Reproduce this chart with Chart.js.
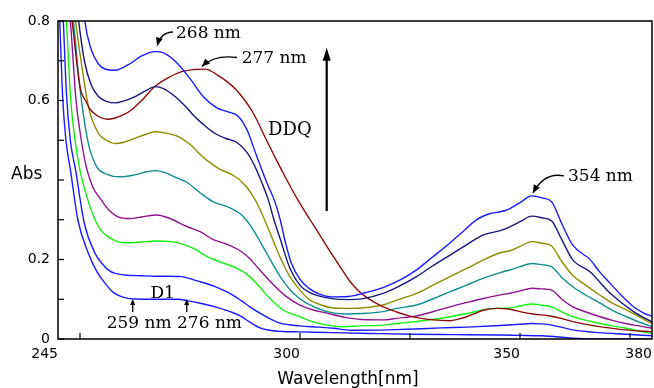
<!DOCTYPE html>
<html><head><meta charset="utf-8">
<script src="https://cdn.jsdelivr.net/npm/chart.js@4.4.1/dist/chart.umd.min.js"></script>
<style>html,body{margin:0;padding:0;background:#fff;}#wrap{width:654px;height:388px;}</style>
</head><body><div id="wrap"><canvas id="c" width="654" height="388"></canvas></div>
<script>
// ---- data (wavelength nm, absorbance) ----
const specTop = [[250.3,0.9],[251.1,0.8],[252.5,0.73],[254,0.695],[256,0.678],[258,0.676],[261,0.69],[264,0.712],[267,0.723],[269,0.72],[272,0.695],[275,0.655],[278,0.61],[281,0.582],[283.5,0.572],[286,0.56],[288,0.525],[290,0.465],[292.4,0.395],[294.3,0.345],[295.5,0.30],[296.8,0.238],[298,0.192],[300,0.15],[302,0.128],[304,0.115],[307.5,0.106],[311,0.107],[315,0.117],[319,0.13],[323,0.15],[326.5,0.174],[330,0.205],[334,0.241],[337,0.27],[340,0.299],[343,0.315],[345.5,0.32],[347.5,0.327],[350,0.343],[352.7,0.360],[355,0.355],[357.2,0.345],[359.5,0.29],[362,0.236],[366,0.199],[368,0.17],[370.5,0.14],[373,0.11],[375.8,0.081],[378,0.066],[380,0.057]];
const specNavy = [[248.8,0.9],[249.7,0.8],[251,0.7],[252.5,0.64],[254.2,0.61],[256,0.598],[258,0.594],[260,0.599],[262,0.607],[265,0.625],[267,0.635],[269,0.63],[271.6,0.61],[274,0.585],[276.1,0.559],[278,0.54],[280.7,0.517],[283,0.505],[285.6,0.495],[287.9,0.47],[289.5,0.44],[290.9,0.405],[292.8,0.35],[294,0.303],[295.5,0.252],[297.7,0.178],[300,0.135],[302,0.118],[304,0.109],[307.6,0.101],[311,0.099],[314,0.101],[318.9,0.115],[322,0.13],[326.5,0.157],[330,0.183],[334.1,0.211],[338,0.238],[341.7,0.262],[345.5,0.2725],[347.7,0.282],[350,0.295],[352.7,0.309],[355,0.305],[357.2,0.297],[359.5,0.25],[362,0.199],[365.9,0.169],[370.5,0.115],[375.8,0.069],[380,0.043]];
const specOlive = [[248,0.9],[249,0.8],[250.5,0.68],[252,0.58],[254.2,0.517],[256,0.5],[258,0.492],[260,0.495],[262,0.503],[265,0.515],[267,0.5215],[269.5,0.518],[272.3,0.509],[275,0.49],[277,0.468],[279,0.448],[281.8,0.427],[284.8,0.412],[287.1,0.392],[289,0.365],[290.2,0.342],[292.4,0.288],[294,0.245],[295.5,0.205],[297.7,0.157],[300,0.123],[302,0.10],[303.8,0.09],[307.6,0.078],[311,0.077],[314,0.078],[318.9,0.0855],[322,0.098],[326.5,0.115],[330,0.134],[334.1,0.157],[338,0.178],[341.7,0.199],[345.5,0.217],[347.7,0.222],[350,0.233],[352.7,0.245],[355,0.241],[357.2,0.234],[359.5,0.195],[362,0.16],[365,0.135],[368.2,0.11],[371,0.09],[374.2,0.073],[377,0.056],[380,0.039]];
const specTeal = [[247.5,0.9],[248.5,0.8],[250,0.63],[251.9,0.492],[253.8,0.433],[256,0.415],[259,0.408],[262,0.412],[265,0.42],[267,0.4235],[269.5,0.418],[272.3,0.404],[274.2,0.395],[277.3,0.368],[280.3,0.345],[283,0.335],[285,0.325],[286.4,0.315],[287.9,0.298],[289.4,0.274],[292.4,0.216],[295.5,0.157],[298.5,0.115],[301.5,0.09],[306.1,0.069],[310.6,0.063],[314,0.064],[318.9,0.069],[322,0.077],[326.5,0.0855],[330,0.10],[334.1,0.119],[338,0.136],[341.7,0.153],[345.5,0.167],[347.7,0.1736],[350,0.182],[352.7,0.190],[355,0.187],[357.2,0.182],[359.5,0.155],[362,0.1316],[365,0.11],[368.2,0.09],[371,0.072],[374.2,0.056],[377,0.043],[380,0.031]];
const specPurple = [[246.8,0.9],[247.8,0.8],[249.1,0.6],[250.3,0.5],[251.5,0.43],[253,0.38],[254.5,0.355],[256.5,0.325],[258.5,0.308],[261.4,0.303],[264,0.307],[267.4,0.312],[270,0.305],[274.3,0.283],[277.3,0.27],[280.3,0.25],[283,0.24],[286.4,0.222],[288.5,0.203],[290.2,0.182],[294,0.136],[297,0.106],[300,0.0855],[303,0.073],[306.1,0.065],[310,0.055],[314,0.049],[318.9,0.048],[322,0.052],[326.5,0.058],[330,0.068],[334.1,0.081],[338,0.092],[341.7,0.102],[345.5,0.111],[347.7,0.115],[350,0.121],[352.7,0.1275],[355,0.126],[357.2,0.123],[359.5,0.10],[362,0.081],[365,0.068],[368.2,0.056],[371,0.047],[374,0.039],[377,0.033],[380,0.027]];
const specGreen = [[246,0.9],[246.9,0.8],[247.9,0.6],[249,0.49],[250,0.425],[251.5,0.36],[253.4,0.30],[255,0.27],[256.4,0.257],[258.5,0.245],[261,0.242],[264,0.244],[267,0.2465],[270.8,0.245],[273.5,0.238],[276.1,0.226],[278.5,0.21],[281.8,0.194],[285.6,0.178],[288.6,0.157],[290.5,0.135],[292.4,0.111],[294.3,0.09],[296.2,0.073],[300,0.056],[303,0.043],[306.1,0.035],[309.8,0.031],[313.6,0.033],[318.9,0.035],[322,0.039],[326.5,0.044],[330,0.049],[334.1,0.056],[338,0.064],[341.7,0.073],[344.7,0.077],[347.7,0.078],[350,0.083],[352.7,0.088],[355,0.085],[357.2,0.081],[359.5,0.068],[362,0.056],[365,0.047],[368.2,0.039],[371,0.033],[374.2,0.027],[377,0.02],[380,0.014]];
const specLowBlue = [[245.5,0.9],[246.2,0.8],[246.9,0.62],[247.8,0.5],[249,0.425],[251,0.29],[253.4,0.216],[255,0.19],[256.4,0.174],[258,0.165],[260.2,0.161],[264,0.159],[267,0.158],[270,0.158],[273.1,0.157],[275.5,0.15],[277.3,0.144],[280.7,0.132],[282.5,0.123],[284.8,0.11],[286.7,0.096],[288.6,0.081],[290.9,0.065],[293,0.052],[295.5,0.040],[300,0.033],[304,0.03],[307.6,0.027],[311.4,0.022],[314,0.022],[320,0.023],[326,0.025],[332,0.028],[338,0.03],[345.5,0.034],[350,0.037],[352.7,0.039],[355,0.038],[357.2,0.035],[360,0.028],[362,0.023],[368,0.016],[374,0.012],[380,0.008]];
const specD1 = [[245,0.9],[245.4,0.8],[246,0.62],[246.8,0.5],[247.9,0.42],[249.5,0.3],[251.9,0.216],[253.8,0.17],[255.7,0.14],[257.5,0.118],[259.5,0.106],[262.5,0.1006],[267,0.1],[270,0.1],[272.3,0.1],[274.6,0.096],[277.3,0.09],[280.7,0.081],[283,0.073],[284.8,0.066],[286.4,0.058],[288.5,0.043],[290.9,0.028],[293,0.022],[296,0.019],[300,0.018],[307.6,0.016],[316,0.014],[325,0.012],[335,0.011],[345,0.01],[350,0.009],[355,0.008],[359,0.005],[362,0.002],[366,0.0],[380,0.0]];
const specDDQ = [[247,0.9],[248.2,0.8],[250,0.635],[251.5,0.595],[252.3,0.578],[254,0.561],[256.2,0.553],[258,0.556],[260,0.565],[261.7,0.576],[264,0.60],[267,0.635],[270,0.657],[273.1,0.6725],[276.1,0.678],[278,0.679],[279.2,0.677],[281.8,0.66],[283.7,0.645],[285.6,0.626],[287.5,0.60],[289.4,0.568],[292.4,0.50],[294.3,0.458],[296.2,0.417],[299.5,0.35],[302.3,0.30],[303.8,0.274],[307.6,0.207],[310.6,0.157],[311.4,0.144],[313.6,0.118],[315.2,0.104],[318.9,0.081],[321.5,0.07],[324.2,0.06],[327,0.053],[330.3,0.048],[334.1,0.046],[336,0.05],[337.9,0.056],[340,0.065],[341.7,0.073],[344.7,0.077],[347.7,0.0747],[350,0.069],[353,0.063],[356.8,0.058],[360,0.05],[362,0.0436],[368,0.031],[374,0.023],[380,0.018]];

const xTicks = [245, 250, 300, 325, 350, 375, 380];
const xTickLabels = [245, 300, 350, 380];
const xMarkTicks = [250, 300, 325, 350, 375];
const yTicks = [0, 0.1, 0.2, 0.3, 0.4, 0.5, 0.6, 0.7, 0.8];
const yTickLabels = [0, 0.2, 0.6, 0.8];

const series = [
  {name:'c1', data: specTop, color:'#1a1aff'},
  {name:'c2', data: specNavy, color:'#17177d'},
  {name:'DDQ', data: specDDQ, color:'#8c0c0c'},
  {name:'c3', data: specOlive, color:'#8c8c00'},
  {name:'c4', data: specTeal, color:'#148c8c'},
  {name:'c5', data: specPurple, color:'#8c148c'},
  {name:'c6', data: specGreen, color:'#10f010'},
  {name:'c7', data: specLowBlue, color:'#1a1aff'},
  {name:'D1', data: specD1, color:'#1a1aff'}
];

const SERIF = '"DejaVu Serif", "Liberation Serif", serif';
const SANS = '"DejaVu Sans", "Liberation Sans", sans-serif';

function arrowHead(ctx, fx, fy, tx, ty, len, half) {
  const a = Math.atan2(ty - fy, tx - fx);
  ctx.beginPath();
  ctx.moveTo(tx, ty);
  ctx.lineTo(tx - len*Math.cos(a) + half*Math.sin(a), ty - len*Math.sin(a) - half*Math.cos(a));
  ctx.lineTo(tx - len*Math.cos(a) - half*Math.sin(a), ty - len*Math.sin(a) + half*Math.cos(a));
  ctx.closePath();
  ctx.fill();
}

const deco = {
  id: 'deco',
  afterDraw(chart) {
    const {ctx, chartArea: a, scales: {x, y}} = chart;
    const P = (nm, v) => [x.getPixelForValue(nm), y.getPixelForValue(v)];
    ctx.save();
    ctx.strokeStyle = '#000'; ctx.fillStyle = '#000';
    // inner tick marks
    ctx.lineWidth = 1.2;
    for (const v of yTicks) {
      const py = y.getPixelForValue(v);
      ctx.beginPath(); ctx.moveTo(a.left, py); ctx.lineTo(a.left + 6, py); ctx.stroke();
    }
    for (const v of xMarkTicks) {
      const px = x.getPixelForValue(v);
      ctx.beginPath(); ctx.moveTo(px, a.bottom); ctx.lineTo(px, a.bottom - 6); ctx.stroke();
    }
    // frame
    ctx.lineWidth = 1.5;
    ctx.strokeRect(a.left, a.top, a.right - a.left, a.bottom - a.top);

    // axis titles
    ctx.font = '17px ' + SANS;
    ctx.textAlign = 'left'; ctx.textBaseline = 'alphabetic';
    ctx.fillText('Abs', 11, y.getPixelForValue(0.4) - 1);
    ctx.textAlign = 'center';
    ctx.fillText('Wavelength[nm]', 348, 384);

    // annotations
    ctx.textAlign = 'left';
    ctx.font = '17px ' + SERIF;
    let p = P(271.82, 0.756); ctx.fillText('268 nm', p[0], p[1]);
    p = P(286.75, 0.6931); ctx.fillText('277 nm', p[0], p[1]);
    p = P(360.91, 0.3982); ctx.fillText('354 nm', p[0], p[1]);
    p = P(266.0, 0.1024); ctx.fillText('D1', p[0], p[1]);
    p = P(256.07, 0.0284); ctx.fillText('259 nm 276 nm', p[0], p[1]);
    ctx.font = '18px ' + SERIF;
    p = P(292.73, 0.5132); ctx.fillText('DDQ', p[0], p[1]);

    // curved arrows
    ctx.lineWidth = 1.3;
    const curved = (s, c, t) => {
      const S = P(s[0], s[1]), C = P(c[0], c[1]), T = P(t[0], t[1]);
      ctx.beginPath(); ctx.moveTo(S[0], S[1]);
      ctx.quadraticCurveTo(C[0], C[1], T[0], T[1]); ctx.stroke();
      arrowHead(ctx, C[0], C[1], T[0], T[1], 8, 3.5);
    };
    curved([271.14, 0.7723], [268.4, 0.772], [267.55, 0.738]);
    curved([285.68, 0.7082], [280.6, 0.716], [277.7, 0.6855]);
    curved([360.0, 0.4101], [355.6, 0.421], [352.95, 0.3673]);

    // big vertical arrow
    const b0 = P(306.07, 0.322), b1 = P(306.07, 0.733);
    ctx.lineWidth = 2.2;
    ctx.beginPath(); ctx.moveTo(b0[0], b0[1]); ctx.lineTo(b1[0], b1[1] + 8); ctx.stroke();
    arrowHead(ctx, b0[0], b0[1], b1[0], b1[1], 13, 4);

    // small arrows at D1
    ctx.lineWidth = 1.3;
    for (const nm of [261.98, 274.25]) {
      const s0 = P(nm, 0.068), s1 = P(nm, 0.1006);
      ctx.beginPath(); ctx.moveTo(s0[0], s0[1]); ctx.lineTo(s1[0], s1[1] + 4); ctx.stroke();
      arrowHead(ctx, s0[0], s0[1], s1[0], s1[1], 6, 2.5);
    }
    ctx.restore();
  }
};

new Chart(document.getElementById('c'), {
  type: 'scatter',
  data: {
    datasets: series.map(s => ({
      label: s.name,
      data: s.data.map(([nm, v]) => ({x: nm, y: v})),
      showLine: true,
      borderColor: s.color,
      backgroundColor: s.color,
      borderWidth: 1.4,
      pointRadius: 0,
      pointHoverRadius: 0,
      cubicInterpolationMode: 'monotone',
      fill: false
    }))
  },
  options: {
    responsive: false,
    devicePixelRatio: 1,
    animation: false,
    events: [],
    layout: {padding: {top: 21, right: 0, left: 0, bottom: 0}},
    plugins: {legend: {display: false}, tooltip: {enabled: false}, title: {display: false}},
    scales: {
      x: {
        type: 'linear', min: 245, max: 380,
        afterBuildTicks: sc => { sc.ticks = xTicks.map(v => ({value: v})); },
        afterFit: sc => { sc.height = 49; },
        grid: {display: false, drawTicks: true, tickLength: 5},
        border: {display: false},
        ticks: {
          autoSkip: false, maxRotation: 0, align: 'end', padding: 2,
          color: '#000', font: {family: SANS, size: 14},
          callback: v => xTickLabels.includes(v) ? String(v) : ''
        }
      },
      y: {
        type: 'linear', min: 0, max: 0.8,
        afterBuildTicks: sc => { sc.ticks = yTicks.map(v => ({value: v})); },
        afterFit: sc => { sc.width = 58; },
        grid: {display: false, drawTicks: false},
        border: {display: false},
        ticks: {
          autoSkip: false, padding: 8,
          color: '#000', font: {family: SANS, size: 14},
          callback: v => yTickLabels.some(t => Math.abs(t - v) < 1e-6) ? (v === 0 ? '0' : v.toFixed(1)) : ''
        }
      }
    }
  },
  plugins: [deco]
});
</script>
</body></html>
